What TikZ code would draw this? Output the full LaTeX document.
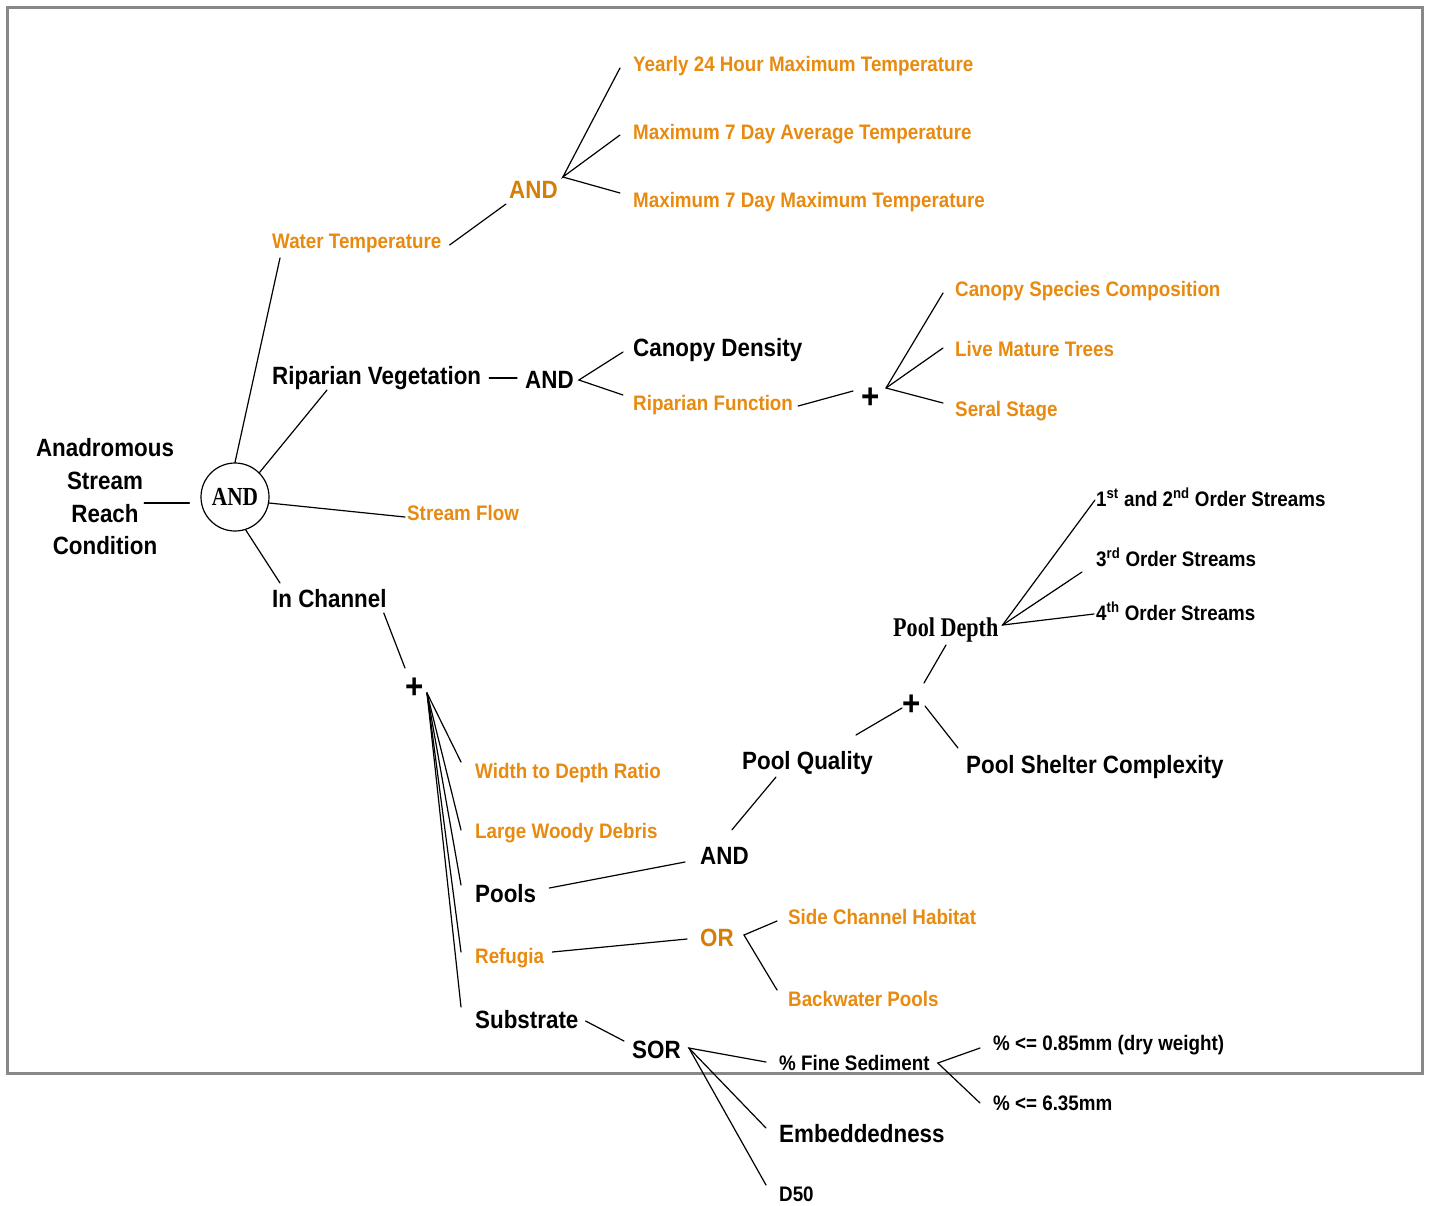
\documentclass[tikz,border=0pt]{standalone}
\usepackage{fontspec}
\newfontfamily\afb[FakeStretch=0.895]{Liberation Sans Bold}
\newfontfamily\tfb[FakeStretch=0.82]{Liberation Serif Bold}
\definecolor{orng}{RGB}{232,138,16}
\definecolor{dorng}{RGB}{212,126,8}
\definecolor{brd}{RGB}{136,136,136}
\tikzset{
 base/.style={inner sep=0pt, anchor=west, text depth=0pt},
 big/.style={base, font=\afb\fontsize{25}{30}\selectfont, text height=18pt},
 sml/.style={base, font=\afb\fontsize{21}{25}\selectfont, text height=15pt},
 org/.style={sml, text=orng},
 orgbig/.style={big, text=dorng},
 plusnode/.style={inner sep=0pt, font=\afb\fontsize{35}{35}\selectfont},
 conn/.style={line width=1.2pt, line cap=round},
}
\begin{document}
\begin{tikzpicture}[x=1pt,y=-1pt]
\useasboundingbox (0,0) rectangle (1431,1205);
\draw[brd, line width=3pt] (7.5,7.5) rectangle (1422.5,1073.5);

% root
\node[font=\afb\fontsize{25}{32.7}\selectfont, align=center, inner sep=0pt] (arsc) at (105,497) {Anadromous\\Stream\\Reach\\Condition};
\node[circle, draw, line width=1.2pt, minimum size=68pt, inner sep=0pt, font=\tfb\fontsize{26}{26}\selectfont] (circ) at (235,497) {AND};

% water temperature
\node[org] (wt) at (272,241) {Water Temperature};
\node[orgbig] (and1) at (509,189) {AND};
\node[org] (y24) at (633,64) {Yearly 24 Hour Maximum Temperature};
\node[org] (m7a) at (633,132) {Maximum 7 Day Average Temperature};
\node[org] (m7m) at (633,200) {Maximum 7 Day Maximum Temperature};

% riparian
\node[big] (rv) at (272,375) {Riparian Vegetation};
\node[big] (and2) at (525,379) {AND};
\node[big] (cd) at (633,347) {Canopy Density};
\node[org] (rf) at (633,403) {Riparian Function};
\node[plusnode] (plus1) at (871,398) {+};
\node[org] (csc) at (955,289) {Canopy Species Composition};
\node[org] (lmt) at (955,349) {Live Mature Trees};
\node[org] (ss) at (955,409) {Seral Stage};

% stream flow
\node[org] (sf) at (407,513) {Stream Flow};

% in channel
\node[big] (ic) at (272,598) {In Channel};
\node[plusnode] (plus2) at (415,688) {+};
\node[org] (wdr) at (475,771) {Width to Depth Ratio};
\node[org] (lwd) at (475,831) {Large Woody Debris};
\node[big] (pools) at (475,893) {Pools};
\node[org] (ref) at (475,956) {Refugia};
\node[big] (substr) at (475,1019) {Substrate};

% pools
\node[big] (and3) at (700,855) {AND};
\node[big] (pq) at (742,760) {Pool Quality};
\node[plusnode] (plus3) at (912,705) {+};
\node[base, font=\tfb\fontsize{27}{30}\selectfont, text height=18pt] (pd) at (893,627) {Pool Depth};
\node[big] (psc) at (966,764) {Pool Shelter Complexity};
\node[sml] (o12) at (1096,499) {1\textsuperscript{st} and 2\textsuperscript{nd} Order Streams};
\node[sml] (o3) at (1096,559) {3\textsuperscript{rd} Order Streams};
\node[sml] (o4) at (1096,613) {4\textsuperscript{th} Order Streams};

% refugia
\node[orgbig] (or) at (700,937) {OR};
\node[org] (sch) at (788,917) {Side Channel Habitat};
\node[org] (bp) at (788,999) {Backwater Pools};

% substrate
\node[big] (sor) at (632,1049) {SOR};
\node[sml] (fs) at (779,1063) {\% Fine Sediment};
\node[big] (emb) at (779,1133) {Embeddedness};
\node[sml] (d50) at (779,1194) {D50};
\node[sml] (p085) at (993,1043) {\% <= 0.85mm (dry weight)};
\node[sml] (p635) at (993,1103) {\% <= 6.35mm};

% connectors
\draw[conn] ([shift={(-30,6)}]arsc.east) -- ([shift={(-11,6)}]circ.west);
\draw[conn] (circ.north) -- ([shift={(8,17)}]wt.west);
\draw[conn] (circ.45) -- ([shift={(55,15)}]rv.west);
\draw[conn] (circ.-10) -- ([shift={(-2,4)}]sf.west);
\draw[conn] (circ.-72) -- ([shift={(8,-15)}]ic.west);

\draw[conn] ([shift={(8,4)}]wt.east) -- ([shift={(-3,15)}]and1.west);
\draw[conn] ([shift={(-13,4)}]y24.west) -- ([shift={(5,-12)}]and1.east) -- ([shift={(-13,3)}]m7a.west);
\draw[conn] ([shift={(5,-12)}]and1.east) -- ([shift={(-13,-7)}]m7m.west);

\draw[conn] ([shift={(8,3)}]rv.east) -- ([shift={(-8,-1)}]and2.west);
\draw[conn] ([shift={(-10,5)}]cd.west) -- ([shift={(5,1)}]and2.east) -- ([shift={(-10,-8)}]rf.west);
\draw[conn] ([shift={(5,3)}]rf.east) -- ([shift={(-18,-7)}]plus1.center);
\draw[conn] ([shift={(-12,4)}]csc.west) -- ([shift={(15,-10)}]plus1.center) -- ([shift={(-12,-6)}]ss.west);
\draw[conn] ([shift={(15,-10)}]plus1.center) -- ([shift={(-12,-1)}]lmt.west);

\draw[conn] ([shift={(-3,15)}]ic.east) -- ([shift={(-10,-20)}]plus2.center);
\foreach \n/\dy in {wdr/-9, lwd/-1, pools/-8, ref/-4, substr/-12}
  \draw[conn] ([shift={(12,5)}]plus2.center) -- ([shift={(-14,\dy)}]\n.west);

\draw[conn] ([shift={(13,-5)}]pools.east) -- ([shift={(-15,7)}]and3.west);
\draw[conn] ([shift={(7.5,-16)}]and3.north) -- ([shift={(34,17)}]pq.west);
\draw[conn] ([shift={(-17,-25)}]pq.east) -- ([shift={(-10,3)}]plus3.center);
\draw[conn] ([shift={(12,-22)}]plus3.center) -- ([shift={(53,18)}]pd.west);
\draw[conn] ([shift={(13,1)}]plus3.center) -- ([shift={(-8,-16)}]psc.west);
\draw[conn] ([shift={(-1,1)}]o12.west) -- ([shift={(4,-2)}]pd.east) -- ([shift={(-2,1)}]o4.west);
\draw[conn] ([shift={(4,-2)}]pd.east) -- ([shift={(-14,13)}]o3.west);

\draw[conn] ([shift={(8,-4)}]ref.east) -- ([shift={(-13,2)}]or.west);
\draw[conn] ([shift={(-11,4)}]sch.west) -- ([shift={(10,-2)}]or.east) -- ([shift={(-11,-9)}]bp.west);

\draw[conn] ([shift={(7,2)}]substr.east) -- ([shift={(-8,-8)}]sor.west);
\draw[conn] ([shift={(-13,-1)}]fs.west) -- ([shift={(8,-1)}]sor.east) -- ([shift={(-13,-9)}]d50.west);
\draw[conn] ([shift={(8,-1)}]sor.east) -- ([shift={(-13,-5)}]emb.west);
\draw[conn] ([shift={(-13,5)}]p085.west) -- ([shift={(8,0)}]fs.east) -- ([shift={(-13,0)}]p635.west);
\end{tikzpicture}
\end{document}
